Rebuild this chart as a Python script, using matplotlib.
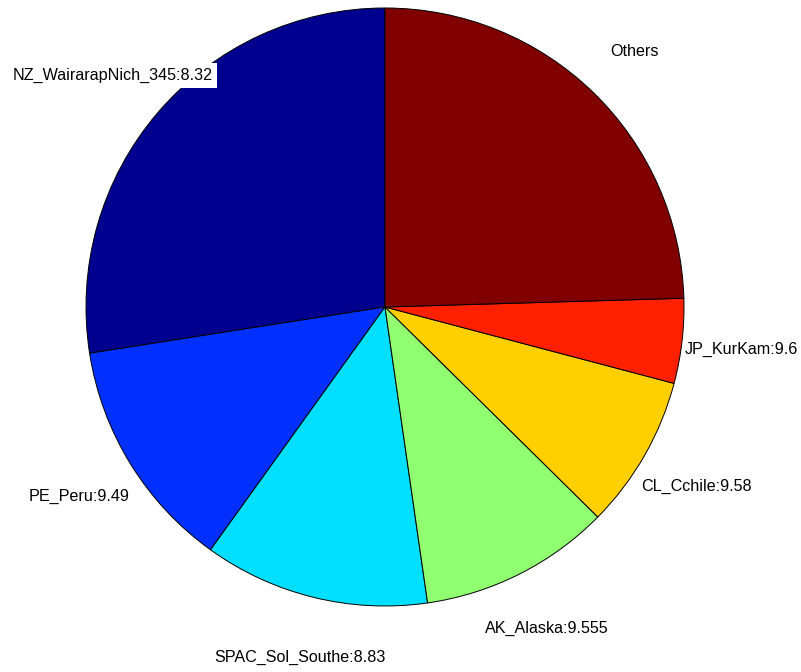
import matplotlib
matplotlib.use("Agg")
import matplotlib.pyplot as plt

labels = ['NZ_WairarapNich_345:8.32', 'PE_Peru:9.49', 'SPAC_Sol_Southe:8.83',
          'AK_Alaska:9.555', 'CL_Cchile:9.58', 'JP_KurKam:9.6', 'Others']
shares = [27.47, 12.61, 12.19, 10.33, 8.28, 4.58, 24.53]
colors = ['#00008f', '#0030ff', '#00dfff', '#90ff70', '#ffcf00', '#ff2000', '#800000']

plt.rcParams['font.family'] = ['Liberation Sans', 'DejaVu Sans']

fig = plt.figure(figsize=(8.01, 6.72), dpi=100)
ax = fig.add_axes([0, 0, 1, 1])

wedges, texts = ax.pie(shares, labels=labels, colors=colors, startangle=90,
                       counterclock=True, center=(385, 365), radius=299,
                       labeldistance=1.2, frame=True,
                       wedgeprops=dict(edgecolor='black', linewidth=0.7))
ax.set_xlim(0, 801)
ax.set_ylim(0, 672)
ax.set_aspect('equal')
ax.axis('off')

for t in texts:
    t.set_ha('center')
    t.set_va('center_baseline')
    t.set_fontsize(11.6)
    t.set_clip_on(False)
texts[0].set_bbox(dict(facecolor='white', edgecolor='none', boxstyle='square,pad=0.3'))

fig.savefig('out.png', dpi=100)
